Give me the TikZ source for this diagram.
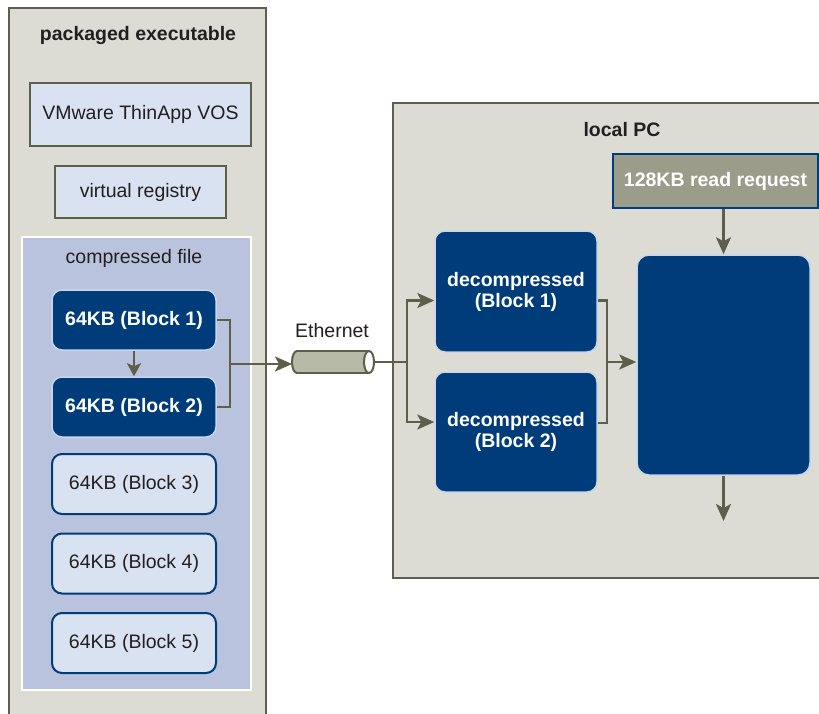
\documentclass[tikz,border=0pt]{standalone}
\usepackage{fontspec}
\setmainfont{Liberation Sans}
\usepackage{tikz}
\usetikzlibrary{arrows.meta,shapes.geometric,positioning}
\usepackage{xcolor}
\definecolor{panelgray}{HTML}{DCDCD4}
\definecolor{olive}{HTML}{5E5F4B}
\definecolor{navy}{HTML}{003B7A}
\definecolor{paleblue}{HTML}{D8E2F1}
\definecolor{fileblue}{HTML}{B9C3DD}
\definecolor{edgeblue}{HTML}{C9D6EA}
\definecolor{reqgray}{HTML}{9C9C8A}
\definecolor{pipegray}{HTML}{B8BAA8}
\definecolor{ink}{HTML}{231F20}

\tikzset{
  txt/.style={font=\fontsize{19.5}{21}\selectfont, text=ink},
  boldtxt/.style={font=\bfseries\fontsize{19.5}{21}\selectfont},
  panel/.style={draw=olive, line width=2.5pt, fill=panelgray},
  plainbox/.style={txt, draw=olive, line width=2pt, fill=paleblue},
  darkblock/.style={boldtxt, text=white, draw=edgeblue, line width=1.5pt, fill=navy, rounded corners=10pt},
  lightblock/.style={txt, draw=navy, line width=2pt, fill=paleblue, rounded corners=10pt, minimum width=164pt, minimum height=60pt},
  flow/.style={draw=olive, line width=2.5pt, -{Stealth[length=17pt, width=15pt, inset=4pt]}},
  link/.style={draw=olive, line width=2.5pt}
}

\begin{document}
\begin{tikzpicture}[x=1pt, y=-1pt]
   \clip (0,0) rectangle (819,713);
   \fill[white] (0,0) rectangle (819,713);

   % panels
   \draw[panel] (9,8) rectangle (266,740);
   \draw[panel] (393,103) rectangle (840,578);
   \node[boldtxt, text=ink] (pkgtitle) at (138,35) {packaged executable};
   \node[boldtxt, text=ink] (pctitle) at (622,130) {local PC};

   % packaged executable
   \node[plainbox, minimum width=221pt, minimum height=63pt] (vos) at (140.5,114.5) {VMware ThinApp VOS};
   \node[plainbox, minimum width=171pt, minimum height=52pt] (registry) at (140.5,192) {virtual registry};
   \draw[fill=fileblue, draw=white, line width=1.5pt] (22,237) rectangle (251,690);
   \node[txt] (filetitle) at (134,258) {compressed file};

   \node[darkblock, minimum width=164pt, minimum height=60pt] (block1) at (134,320) {64KB (Block 1)};
   \node[darkblock, minimum width=164pt, minimum height=60pt] (block2) at (134,407) {64KB (Block 2)};
   \node[lightblock] (block3) at (134,484) {64KB (Block 3)};
   \node[lightblock] (block4) at (134,563.5) {64KB (Block 4)};
   \node[lightblock] (block5) at (134,643) {64KB (Block 5)};

   \draw[flow, -{Stealth[length=13pt, width=14pt, inset=3pt]}] (block1) -- (block2);

   % ethernet pipe
   \coordinate (ethwest) at (292,362);
   \coordinate (etheast) at (374,362);
   \draw[olive, line width=2pt, fill=pipegray] (297,362) ellipse [x radius=5, y radius=11];
   \fill[pipegray] (297,351) rectangle (369,373);
   \draw[olive, line width=2pt] (297,351) -- (369,351) (297,373) -- (369,373);
   \draw[olive, line width=2pt, fill=white] (369,362) ellipse [x radius=5, y radius=11];
   \node[txt] (ethlabel) at (332,331) {Ethernet};

   \coordinate (join) at (230,364);
   \draw[link] (block1.east) -| (join) |- (block2.east);
   \draw[flow] (join) -- (ethwest |- join);

   % local PC
   \node[draw=navy, line width=2pt, fill=reqgray, boldtxt, text=white, minimum width=205pt, minimum height=54pt] (request) at (715.5,181) {128KB read request};
   \node[darkblock, minimum width=173pt, minimum height=220pt, rounded corners=12pt] (buffer) at (723.5,365) {};
   \node[darkblock, align=center, minimum width=162pt, minimum height=121pt] (dec1) at (516,291.5) {decompressed\\(Block 1)};
   \node[darkblock, align=center, minimum width=162pt, minimum height=120pt] (dec2) at (516,432) {decompressed\\(Block 2)};

   \coordinate (split) at (407,362);
   \draw[link] (etheast) -- (split);
   \draw[flow] (split) |- ([yshift=-9pt]dec1.west);
   \draw[flow] (split) |- ([yshift=10pt]dec2.west);

   \coordinate (merge) at (607,362);
   \draw[link] ([yshift=-9pt]dec1.east) -| (merge) |- ([yshift=9pt]dec2.east);
   \draw[flow] (merge) -- (merge -| buffer.west);

   \coordinate (out) at (723.5,521);
   \draw[flow] (request.south -| buffer) -- (buffer.north);
   \draw[flow] (buffer.south) -- (out);
\end{tikzpicture}
\end{document}
